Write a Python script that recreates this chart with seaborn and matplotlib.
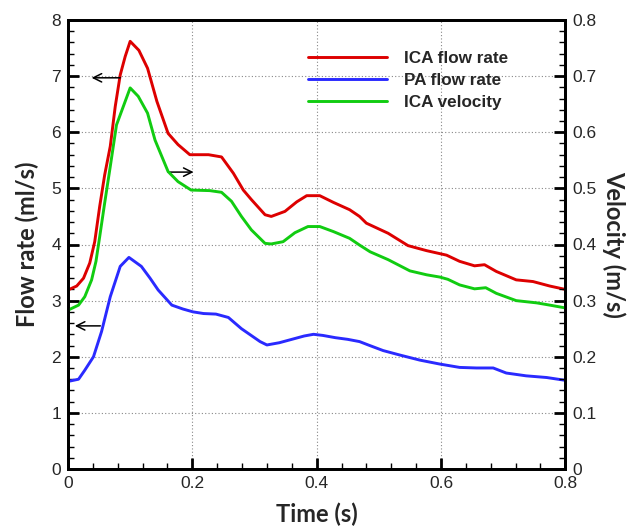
import matplotlib
matplotlib.use("Agg")
import matplotlib.pyplot as plt
import seaborn as sns
from matplotlib.ticker import MultipleLocator
from matplotlib.lines import Line2D

# ---- data ----
ica_flow_t = [0, 0.014, 0.025, 0.035, 0.043, 0.051, 0.059, 0.068, 0.076, 0.084,
              0.092, 0.100, 0.114, 0.128, 0.143, 0.161, 0.177, 0.196, 0.226, 0.247,
              0.266, 0.282, 0.295, 0.317, 0.327, 0.349, 0.368, 0.384, 0.405, 0.427,
              0.453, 0.469, 0.48, 0.515, 0.547, 0.577, 0.609, 0.63, 0.654, 0.67,
              0.689, 0.721, 0.748, 0.775, 0.8]
ica_flow = [3.19, 3.26, 3.40, 3.67, 4.05, 4.68, 5.24, 5.75, 6.46, 7.02,
            7.35, 7.62, 7.46, 7.14, 6.55, 5.98, 5.78, 5.60, 5.60, 5.56,
            5.27, 4.97, 4.80, 4.53, 4.50, 4.59, 4.76, 4.87, 4.87, 4.75,
            4.62, 4.50, 4.38, 4.20, 3.98, 3.89, 3.81, 3.70, 3.62, 3.64,
            3.52, 3.37, 3.34, 3.26, 3.20]

pa_flow_t = [0, 0.017, 0.027, 0.041, 0.054, 0.068, 0.084, 0.098, 0.118, 0.132,
             0.145, 0.167, 0.185, 0.201, 0.218, 0.238, 0.258, 0.279, 0.309, 0.32,
             0.34, 0.36, 0.38, 0.395, 0.41, 0.43, 0.45, 0.469, 0.483, 0.507,
             0.534, 0.566, 0.598, 0.63, 0.657, 0.684, 0.705, 0.737, 0.77, 0.8]
pa_flow = [1.56, 1.60, 1.76, 2.00, 2.45, 3.07, 3.61, 3.77, 3.61, 3.40,
           3.19, 2.92, 2.85, 2.80, 2.77, 2.76, 2.70, 2.50, 2.27, 2.21,
           2.25, 2.31, 2.37, 2.40, 2.38, 2.34, 2.31, 2.27, 2.21, 2.11,
           2.03, 1.94, 1.87, 1.81, 1.80, 1.80, 1.71, 1.66, 1.63, 1.58]

ica_vel_t = [0, 0.017, 0.027, 0.038, 0.045, 0.051, 0.059, 0.068, 0.078, 0.089,
             0.100, 0.113, 0.128, 0.140, 0.161, 0.177, 0.198, 0.228, 0.247, 0.263,
             0.279, 0.295, 0.317, 0.327, 0.346, 0.365, 0.386, 0.405, 0.427, 0.453,
             0.469, 0.486, 0.515, 0.55, 0.577, 0.598, 0.611, 0.63, 0.654, 0.672,
             0.689, 0.721, 0.754, 0.775, 0.8]
ica_vel = [0.283, 0.292, 0.307, 0.337, 0.370, 0.414, 0.474, 0.539, 0.613, 0.646,
           0.679, 0.664, 0.634, 0.586, 0.530, 0.512, 0.497, 0.496, 0.493, 0.477,
           0.450, 0.426, 0.402, 0.401, 0.405, 0.421, 0.432, 0.432, 0.423, 0.411,
           0.399, 0.387, 0.373, 0.353, 0.346, 0.342, 0.338, 0.328, 0.321, 0.323,
           0.313, 0.300, 0.296, 0.292, 0.287]

labels = ["ICA flow rate", "PA flow rate", "ICA velocity"]
colors = ["#dd0000", "#2a2aff", "#11cc11"]
x_ticks = [0, 0.2, 0.4, 0.6, 0.8]
x_ticklabels = ["0", "0.2", "0.4", "0.6", "0.8"]
left_ticks = [0, 1, 2, 3, 4, 5, 6, 7, 8]
right_ticks = [0, 0.1, 0.2, 0.3, 0.4, 0.5, 0.6, 0.7, 0.8]
right_ticklabels = ["0", "0.1", "0.2", "0.3", "0.4", "0.5", "0.6", "0.7", "0.8"]

# ---- style ----
sns.set_style("white")
plt.rcParams['font.family'] = ['Liberation Sans', 'DejaVu Sans']

fig = plt.figure(figsize=(6.33, 5.26), dpi=100)
ax = fig.add_axes([68/633, 1-469/526, (565.3-68)/633, (469-20)/526])
ax2 = ax.twinx()

lw = 2.1
sns.lineplot(x=ica_flow_t, y=ica_flow, ax=ax, color=colors[0], lw=lw, sort=False)
sns.lineplot(x=pa_flow_t, y=pa_flow, ax=ax, color=colors[1], lw=lw, sort=False)
sns.lineplot(x=ica_vel_t, y=ica_vel, ax=ax2, color=colors[2], lw=lw, sort=False)

ax.set_xlim(0, 0.8)
ax.set_ylim(0, 8)
ax2.set_ylim(0, 0.8)

ax.set_xticks(x_ticks)
ax.set_xticklabels(x_ticklabels)
ax.xaxis.set_minor_locator(MultipleLocator(0.04))
ax.set_yticks(left_ticks)
ax.set_yticklabels([str(v) for v in left_ticks])
ax.yaxis.set_minor_locator(MultipleLocator(0.2))
ax2.set_yticks(right_ticks)
ax2.set_yticklabels(right_ticklabels)
ax2.yaxis.set_minor_locator(MultipleLocator(0.02))

for a in (ax, ax2):
    a.tick_params(which='major', direction='in', length=8, width=2, labelsize=12.5, pad=5, color='black')
    a.tick_params(which='minor', direction='in', length=4.5, width=1, color='black')
    for s in a.spines.values():
        s.set_linewidth(2)
        s.set_color('black')
ax.tick_params(axis='y', which='both', left=True, right=False)
ax.tick_params(axis='x', which='both', bottom=True, top=False)
ax2.tick_params(axis='y', which='both', right=True, left=False)

ax.grid(True, which='major', color='#888888', linestyle=(0, (1, 2)), linewidth=0.8)
ax.set_axisbelow(True)

lab_font = dict(family=['Lato', 'DejaVu Sans'], fontweight='bold', fontsize=17)
ax.set_xlabel("Time (s)", labelpad=8, **lab_font)
ax.set_ylabel("Flow rate (ml/s)", labelpad=9, **lab_font)
ax2.set_ylabel("Velocity (m/s)", rotation=270, labelpad=21, **lab_font)

# arrows
arr = dict(arrowstyle='->', color='black', lw=1.1, mutation_scale=15, shrinkA=0, shrinkB=0)
ax.annotate("", xy=(0.038, 6.97), xytext=(0.084, 6.97), arrowprops=arr)
ax.annotate("", xy=(0.011, 2.55), xytext=(0.052, 2.55), arrowprops=arr)
ax.annotate("", xy=(0.202, 5.29), xytext=(0.161, 5.29), arrowprops=arr)

handles = [Line2D([0], [0], color=c, lw=lw) for c in colors]
leg = ax2.legend(handles, labels, loc='upper left', bbox_to_anchor=(0.452, 0.965),
                 frameon=False, handlelength=4.6, handletextpad=1.0, labelspacing=0.42,
                 prop=dict(family='Liberation Sans', weight='bold', size=12.3))

fig.savefig("out.png", dpi=100)
